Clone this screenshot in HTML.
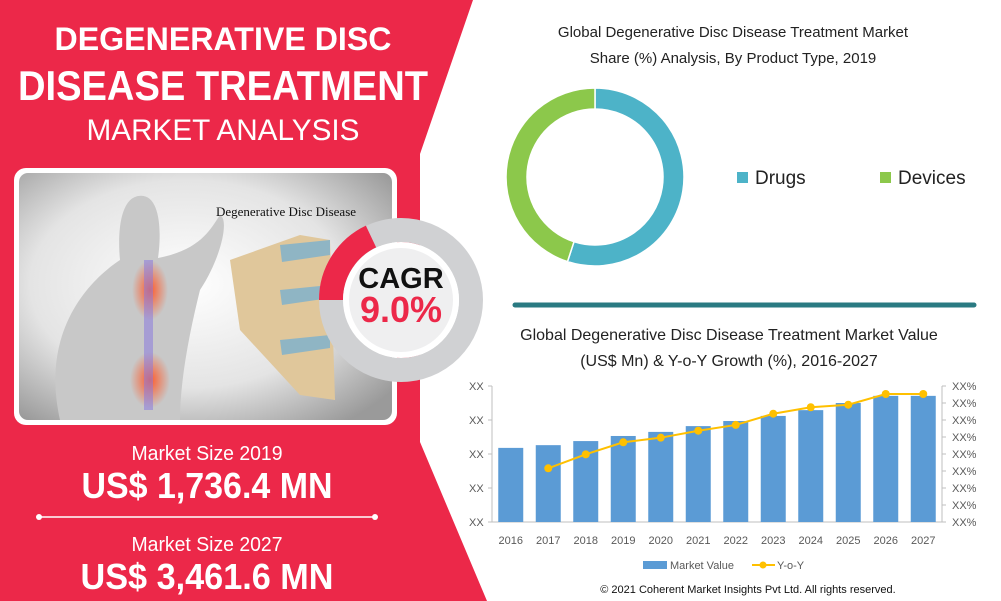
<!DOCTYPE html>
<html><head><meta charset="utf-8">
<style>
body{margin:0;width:1001px;height:601px;overflow:hidden;background:#fff;font-family:"Liberation Sans",sans-serif;}
svg{display:block}
</style></head>
<body>
<svg width="1001" height="601" viewBox="0 0 1001 601">
  <defs>
    <radialGradient id="bg" cx="0.45" cy="0.45" r="0.7">
      <stop offset="0" stop-color="#ffffff"/><stop offset="0.6" stop-color="#e4e4e4"/><stop offset="1" stop-color="#9a9a9a"/>
    </radialGradient>
    <radialGradient id="glow" cx="0.5" cy="0.5" r="0.5">
      <stop offset="0" stop-color="#ff5a2a"/><stop offset="1" stop-color="#ff5a2a" stop-opacity="0"/>
    </radialGradient>
  </defs>
  <polygon points="0,0 473,0 420,154 420,442 487,601 0,601" fill="#ec2849"/>
  <g fill="#fff" font-weight="bold" text-anchor="middle">
    <text x="223" y="50" font-size="32" textLength="337" lengthAdjust="spacingAndGlyphs">DEGENERATIVE DISC</text>
    <text x="223" y="100" font-size="42" textLength="410" lengthAdjust="spacingAndGlyphs">DISEASE TREATMENT</text>
    <text x="223" y="140" font-size="30" font-weight="normal" textLength="273" lengthAdjust="spacingAndGlyphs">MARKET ANALYSIS</text>
  </g>
  <g>
    <rect x="14" y="168" width="383" height="257" rx="12" fill="#fff"/>
    <rect x="19" y="173" width="373" height="247" rx="9" fill="url(#bg)"/>
    <path d="M60,420 C40,330 90,280 120,260 C118,240 118,200 138,196 C160,192 162,230 158,258 C200,250 210,230 220,215 C230,220 220,260 200,290 C190,330 180,380 180,420 Z" fill="#c8c8c8"/>
    <ellipse cx="150" cy="290" rx="18" ry="30" fill="url(#glow)"/>
    <ellipse cx="150" cy="380" rx="20" ry="28" fill="url(#glow)"/>
    <rect x="144" y="260" width="9" height="150" fill="#8a7adf" opacity="0.55"/>
    <path d="M230,260 L300,235 L330,240 L335,400 L300,395 L240,330 Z" fill="#e0c79b"/>
    <path d="M280,245 L330,240 L330,255 L282,262 Z M280,290 L330,285 L330,298 L282,305 Z M280,340 L330,335 L330,348 L282,355 Z" fill="#8fb5c4"/>
    <text x="286" y="216" font-family="Liberation Serif,serif" font-size="13" text-anchor="middle" fill="#111">Degenerative Disc Disease</text>
  </g>
  <g>
    <circle cx="401" cy="300" r="70" fill="none" stroke="#d0d1d3" stroke-width="24"/>
    <path d="M331,300 A70,70 0 0 1 371,236.5" fill="none" stroke="#ec2849" stroke-width="24"/>
    <circle cx="401" cy="300" r="58" fill="#fff"/>
    <circle cx="401" cy="300" r="52" fill="#efeff0"/>
    <text x="401" y="288" font-size="29" font-weight="bold" text-anchor="middle" fill="#111">CAGR</text>
    <text x="401" y="322" font-size="36" font-weight="bold" text-anchor="middle" fill="#ec2849">9.0%</text>
  </g>
  <g fill="#fff" text-anchor="middle">
    <text x="207" y="460" font-size="20" textLength="151" lengthAdjust="spacingAndGlyphs">Market Size 2019</text>
    <text x="207" y="498" font-size="36" font-weight="bold" textLength="251" lengthAdjust="spacingAndGlyphs">US$ 1,736.4 MN</text>
    <line x1="39" y1="517" x2="375" y2="517" stroke="#fff" stroke-width="1.5"/>
    <circle cx="39" cy="517" r="3"/><circle cx="375" cy="517" r="3"/>
    <text x="207" y="551" font-size="20" textLength="151" lengthAdjust="spacingAndGlyphs">Market Size 2027</text>
    <text x="207" y="589" font-size="36" font-weight="bold" textLength="253" lengthAdjust="spacingAndGlyphs">US$ 3,461.6 MN</text>
  </g>
  <g font-size="15" text-anchor="middle" fill="#222">
    <text x="733" y="37">Global Degenerative Disc Disease Treatment Market</text>
    <text x="733" y="63">Share (%) Analysis, By Product Type, 2019</text>
  </g>
  <g id="donut"></g>
  <g font-size="19" fill="#222">
    <rect x="737" y="172" width="11" height="11" fill="#4db3c8"/><text x="755" y="184">Drugs</text>
    <rect x="880" y="172" width="11" height="11" fill="#8cc84b"/><text x="898" y="184">Devices</text>
  </g>
  <line x1="515" y1="305" x2="974" y2="305" stroke="#2a7a82" stroke-width="5" stroke-linecap="round"/>
  <g font-size="16" text-anchor="middle" fill="#222">
    <text x="729" y="340">Global Degenerative Disc Disease Treatment Market Value</text>
    <text x="729" y="366">(US$ Mn) &amp; Y-o-Y Growth (%), 2016-2027</text>
  </g>
  <g id="bars"></g>
  <text x="748" y="593" font-size="11" text-anchor="middle" fill="#111">© 2021 Coherent Market Insights Pvt Ltd. All rights reserved.</text>
</svg>
<script>
const shareLabels = ["Drugs", "Devices"];
const shareValues = [55, 45];
const years = ["2016","2017","2018","2019","2020","2021","2022","2023","2024","2025","2026","2027"];
const marketValue = [2.18,2.26,2.38,2.53,2.65,2.82,2.97,3.12,3.29,3.5,3.71,3.71];
const yoy = [null,3.16,3.98,4.69,4.96,5.37,5.71,6.37,6.75,6.9,7.53,7.53];
const leftTicks = ["XX","XX","XX","XX","XX"];
const rightTicks = ["XX%","XX%","XX%","XX%","XX%","XX%","XX%","XX%","XX%"];
const NS = "http://www.w3.org/2000/svg";
function mk(tag, attrs, parent){const e=document.createElementNS(NS,tag);for(const k in attrs)e.setAttribute(k,attrs[k]);parent.appendChild(e);return e;}

// donut
const dg = document.getElementById('donut');
const colors = ["#4db3c8","#8cc84b"];
const cx=595, cy=177, ro=89, ri=68;
const tot = shareValues.reduce((a,b)=>a+b,0);
let a0 = 0;
shareValues.forEach((v,i)=>{
  const a1 = a0 + v/tot*2*Math.PI;
  const p=(r,a)=>[cx+r*Math.sin(a), cy-r*Math.cos(a)];
  const large = (a1-a0)>Math.PI?1:0;
  const [x0,y0]=p(ro,a0),[x1,y1]=p(ro,a1),[x2,y2]=p(ri,a1),[x3,y3]=p(ri,a0);
  const s = mk('path',{d:`M${x0},${y0} A${ro},${ro} 0 ${large} 1 ${x1},${y1} L${x2},${y2} A${ri},${ri} 0 ${large} 0 ${x3},${y3} Z`,fill:colors[i],stroke:'#fff','stroke-width':1.5},dg);
  
  
  a0 = a1;
});

// bar chart
const bg = document.getElementById('bars');
const L=492, R=942, T=386, B=522;
const yL = v => B - v/4*(B-T);
const yR = v => B - v/8*(B-T);
const step = (R-L)/years.length;
const xC = i => L + step*(i+0.5);
mk('line',{x1:L,y1:T,x2:L,y2:B,stroke:'#bfbfbf'},bg);
mk('line',{x1:R,y1:T,x2:R,y2:B,stroke:'#bfbfbf'},bg);
mk('line',{x1:L,y1:B,x2:R,y2:B,stroke:'#bfbfbf'},bg);
leftTicks.forEach((t,i)=>{
  const y = yL(4 - i);
  mk('line',{x1:L-4,y1:y,x2:L,y2:y,stroke:'#bfbfbf'},bg);
  const tx = mk('text',{x:469,y:y+4,'font-size':11,fill:'#595959'},bg); tx.textContent=t;
  
  
});
rightTicks.forEach((t,i)=>{
  const y = yR(8 - i);
  mk('line',{x1:R,y1:y,x2:R+4,y2:y,stroke:'#bfbfbf'},bg);
  const tx = mk('text',{x:952,y:y+4,'font-size':11,fill:'#595959'},bg); tx.textContent=t;
  
  
});
const bw = 25;
marketValue.forEach((v,i)=>{
  const r = mk('rect',{x:xC(i)-bw/2,y:yL(v),width:bw,height:B-yL(v),fill:'#5b9bd5'},bg);
  
  
  const tx = mk('text',{x:xC(i),y:544,'font-size':11,'text-anchor':'middle',fill:'#595959'},bg); tx.textContent=years[i];
  
  
});
const pts = yoy.map((v,i)=>v==null?null:[xC(i),yR(v)]).filter(p=>p);
const ln = mk('polyline',{points:pts.map(p=>p.join(',')).join(' '),fill:'none',stroke:'#ffc000','stroke-width':2},bg);


pts.forEach(p=>{
  const c = mk('circle',{cx:p[0],cy:p[1],r:4,fill:'#ffc000'},bg);
  
  
});
// legend
const lg = mk('g',{},bg);


mk('rect',{x:643,y:561,width:24,height:8,fill:'#5b9bd5'},lg);
const t1 = mk('text',{x:670,y:569,'font-size':11,fill:'#595959'},lg); t1.textContent='Market Value';
mk('line',{x1:752,y1:565,x2:775,y2:565,stroke:'#ffc000','stroke-width':2},lg);
mk('circle',{cx:763,cy:565,r:3.5,fill:'#ffc000'},lg);
const t2 = mk('text',{x:777,y:569,'font-size':11,fill:'#595959'},lg); t2.textContent='Y-o-Y';
</script>
</body></html>
